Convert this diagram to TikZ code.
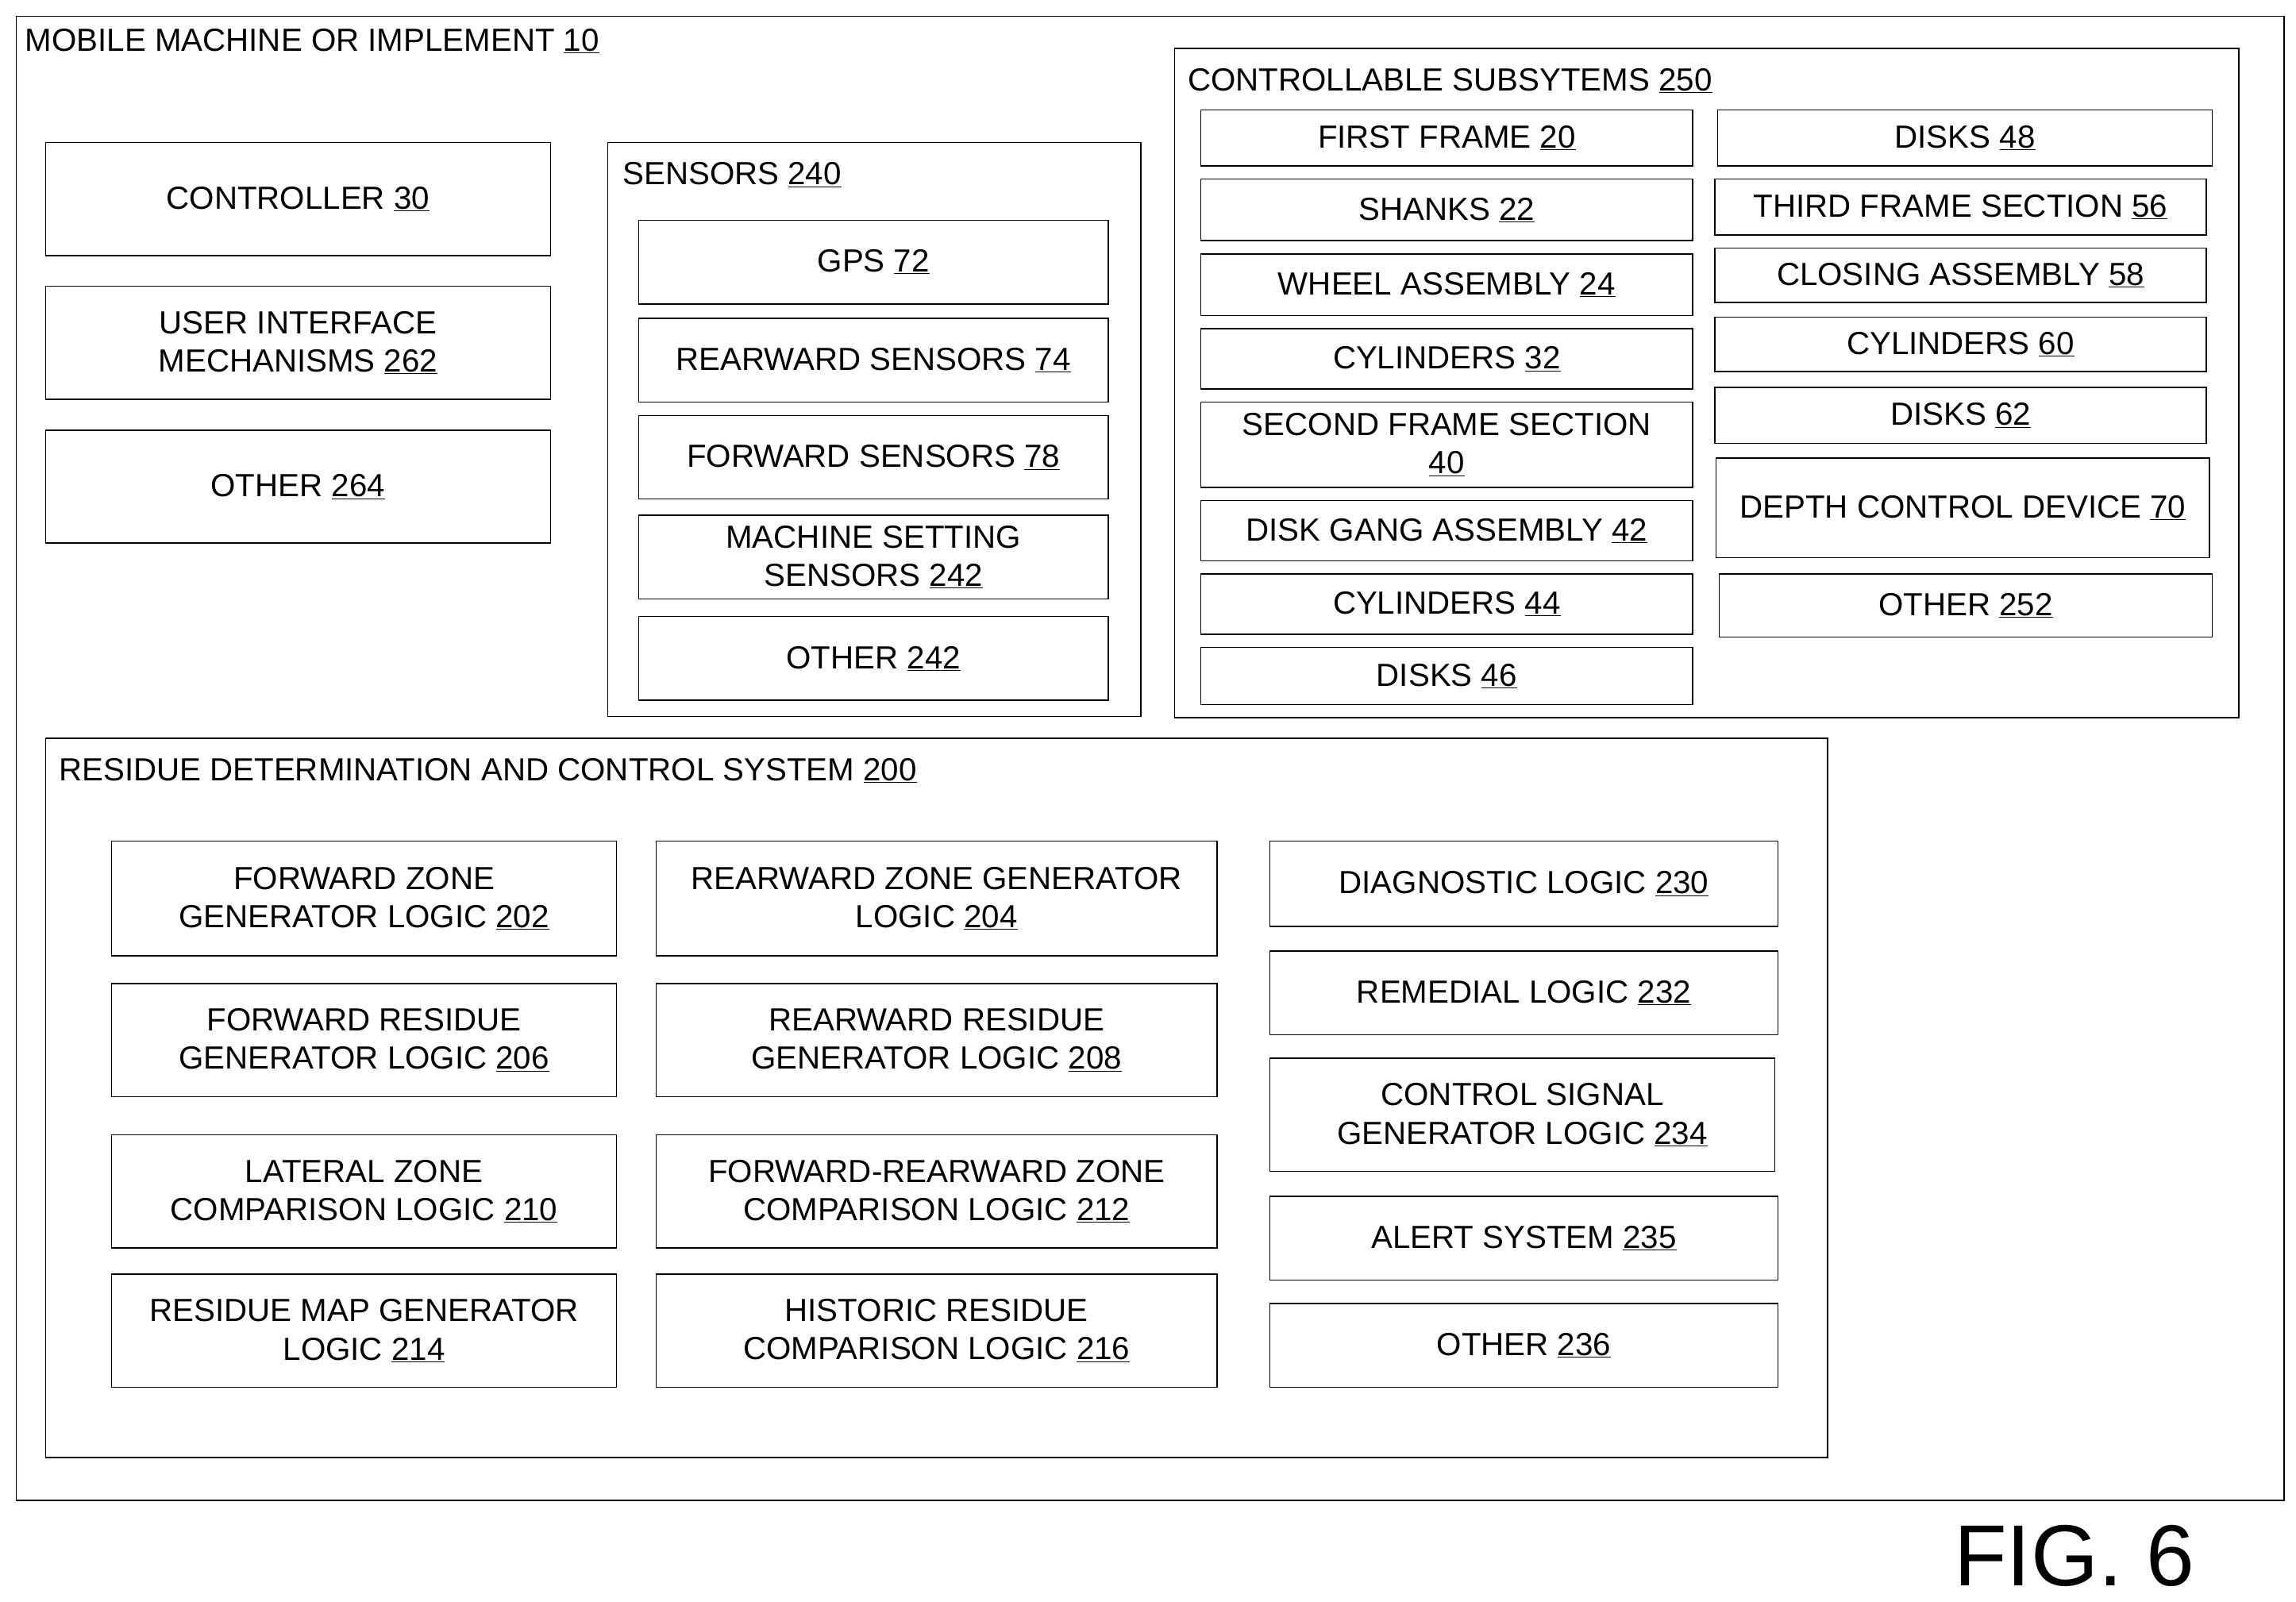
\documentclass[tikz,border=0pt]{standalone}
\usepackage{fontspec}
\setmainfont{Liberation Sans}
\usetikzlibrary{fit}
\tikzset{
  box/.style={draw, line width=1.2pt, inner sep=0pt},
  boxtext/.style={inner sep=0pt, align=center, font=\fontsize{31}{37}\selectfont},
  cont/.style={draw, line width=1.2pt, inner sep=0pt},
  head/.style={anchor=west, inner sep=0pt, font=\fontsize{31}{37}\selectfont}
}
\newcommand{\bx}[6]{\node[box, fit={(#2,#3)(#4,#5)}] (#1) {};
  \node[boxtext] at (#1.center) {#6};}
\newcommand{\un}[1]{\underline{#1}}
\begin{document}
\begin{tikzpicture}[x=0.05cm, y=-0.05cm]
\useasboundingbox (0,0) rectangle (1564,1091);
% outer machine
\node[cont, fit={(11,11)(1556,1022)}] (machine) {};
\node[head] (machinet) at (17,28) {MOBILE MACHINE OR IMPLEMENT \un{10}};
\bx{controller}{31}{97}{375}{174}{CONTROLLER \un{30}}
\bx{ui}{31}{195}{375}{272}{USER INTERFACE\\MECHANISMS \un{262}}
\bx{other264}{31}{293}{375}{370}{OTHER \un{264}}
% sensors
\node[cont, fit={(414,97)(777,488)}] (sensors) {};
\node[head] (sensorst) at (424,119) {SENSORS \un{240}};
\bx{gps}{435}{150}{755}{207}{GPS \un{72}}
\bx{rearsens}{435}{217}{755}{274}{REARWARD SENSORS \un{74}}
\bx{fwdsens}{435}{283}{755}{340}{FORWARD SENSORS \un{78}}
\bx{setsens}{435}{351}{755}{408}{MACHINE SETTING\\SENSORS \un{242}}
\bx{other242}{435}{420}{755}{477}{OTHER \un{242}}
% controllable subsystems
\node[cont, fit={(800,33)(1525,489)}] (subsys) {};
\node[head] (subsyst) at (809,55) {CONTROLLABLE SUBSYTEMS \un{250}};
\bx{frame}{818}{75}{1153}{113}{FIRST FRAME \un{20}}
\bx{shanks}{818}{122}{1153}{164}{SHANKS \un{22}}
\bx{wheel}{818}{173}{1153}{215}{WHEEL ASSEMBLY \un{24}}
\bx{cyl32}{818}{224}{1153}{265}{CYLINDERS \un{32}}
\bx{second}{818}{274}{1153}{332}{SECOND FRAME SECTION\\\un{40}}
\bx{gang}{818}{341}{1153}{382}{DISK GANG ASSEMBLY \un{42}}
\bx{cyl44}{818}{391}{1153}{432}{CYLINDERS \un{44}}
\bx{disks46}{818}{441}{1153}{480}{DISKS \un{46}}
\bx{disks48}{1170}{75}{1507}{113}{DISKS \un{48}}
\bx{third}{1168}{122}{1503}{160}{THIRD FRAME SECTION \un{56}}
\bx{closing}{1168}{169}{1503}{206}{CLOSING ASSEMBLY \un{58}}
\bx{cyl60}{1168}{216}{1503}{253}{CYLINDERS \un{60}}
\bx{disks62}{1168}{264}{1503}{302}{DISKS \un{62}}
\bx{depth}{1169}{312}{1505}{380}{DEPTH CONTROL DEVICE \un{70}}
\bx{other252}{1171}{391}{1507}{434}{OTHER \un{252}}
% residue system
\node[cont, fit={(31,503)(1245,993)}] (residue) {};
\node[head] (residuet) at (40,525) {RESIDUE DETERMINATION AND CONTROL SYSTEM \un{200}};
\bx{fzone}{76}{573}{420}{651}{FORWARD ZONE\\GENERATOR LOGIC \un{202}}
\bx{fres}{76}{670}{420}{747}{FORWARD RESIDUE\\GENERATOR LOGIC \un{206}}
\bx{latzone}{76}{773}{420}{850}{LATERAL ZONE\\COMPARISON LOGIC \un{210}}
\bx{resmap}{76}{868}{420}{945}{RESIDUE MAP GENERATOR\\LOGIC \un{214}}
\bx{rzone}{447}{573}{829}{651}{REARWARD ZONE GENERATOR\\LOGIC \un{204}}
\bx{rres}{447}{670}{829}{747}{REARWARD RESIDUE\\GENERATOR LOGIC \un{208}}
\bx{frzone}{447}{773}{829}{850}{FORWARD-REARWARD ZONE\\COMPARISON LOGIC \un{212}}
\bx{hist}{447}{868}{829}{945}{HISTORIC RESIDUE\\COMPARISON LOGIC \un{216}}
\bx{diag}{865}{573}{1211}{631}{DIAGNOSTIC LOGIC \un{230}}
\bx{remedial}{865}{648}{1211}{705}{REMEDIAL LOGIC \un{232}}
\bx{ctrlsig}{865}{721}{1209}{798}{CONTROL SIGNAL\\GENERATOR LOGIC \un{234}}
\bx{alert}{865}{815}{1211}{872}{ALERT SYSTEM \un{235}}
\bx{other236}{865}{888}{1211}{945}{OTHER \un{236}}
% figure label
\node[inner sep=0pt, font=\fontsize{84}{92}\selectfont] (fig) at (1413,1060) {FIG. 6};
\end{tikzpicture}
\end{document}
